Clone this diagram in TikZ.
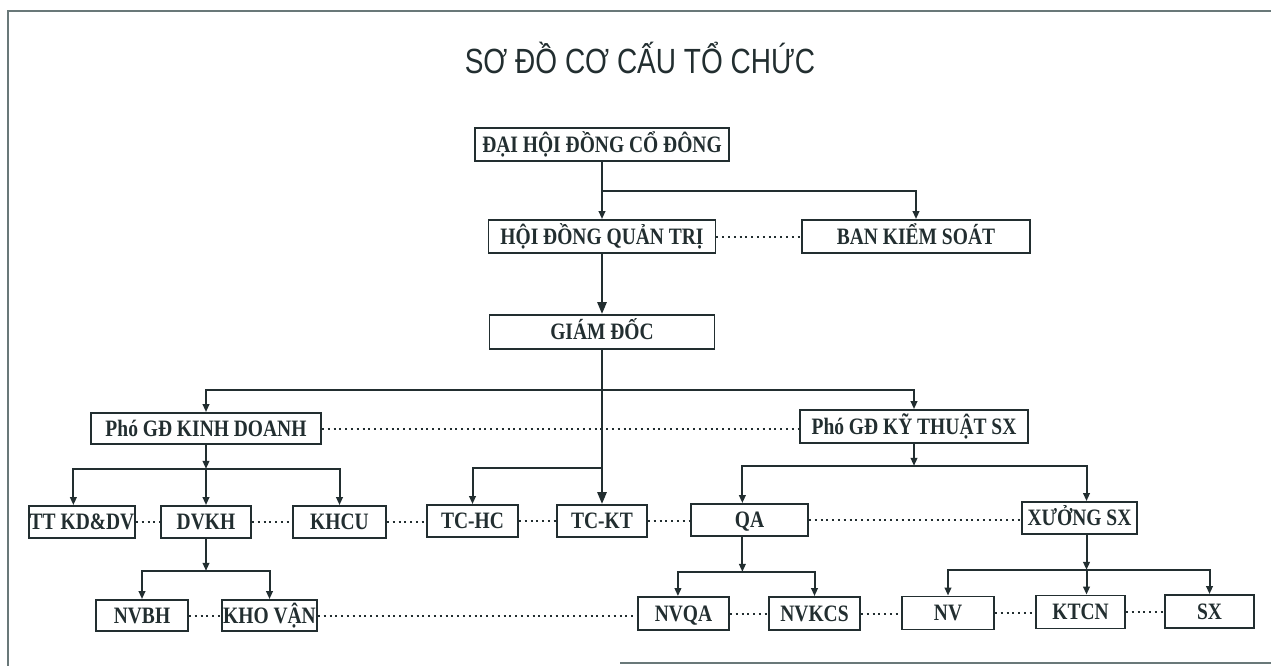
\documentclass[tikz,border=0pt]{standalone}
\usepackage{fontspec}
\setmainfont{Liberation Serif}
\newfontfamily\titlefont[FakeStretch=0.8]{Liberation Sans}
\newfontfamily\boxfont[FakeStretch=0.83]{Liberation Serif}
\usetikzlibrary{arrows.meta,calc}
\definecolor{ink}{RGB}{34,46,48}
\definecolor{framec}{RGB}{105,120,121}
\begin{document}
\begin{tikzpicture}[x=1pt,y=-1pt,
  box/.style={draw=ink, line width=1.8pt, fill=white, inner sep=0pt, minimum height=33pt,
    text height=15.5pt, text depth=-1pt,
    font=\boxfont\bfseries\fontsize{23.5}{25}\selectfont, text=ink},
  arr/.style={draw=ink, line width=2pt, -{Triangle[length=8pt,width=6.5pt]}},
  bigarr/.style={draw=ink, line width=2.6pt, -{Triangle[length=12pt,width=9pt]}},
  dots/.style={draw=ink, line width=2pt, dash pattern=on 2pt off 3.8pt},
  framel/.style={draw=framec, line width=2.2pt},
  titlest/.style={font=\titlefont\fontsize{35}{38}\selectfont, text=ink}
]
\fill[white] (0,0) rectangle (1271,666);
\useasboundingbox (0,0) rectangle (1271,666);
\draw[framel] (8,666) -- (8,11) -- (1271,11);
\draw[framel] (620,663) -- (1271,663);

\node[titlest] (title) at (640,58) {SƠ ĐỒ CƠ CẤU TỔ CHỨC};

% level nodes
\node[box, minimum width=254pt] (dhdcd) at (602,144.5) {ĐẠI HỘI ĐỒNG CỔ ĐÔNG};
\node[box, minimum width=227pt] (hdqt) at (602,236.5) {HỘI ĐỒNG QUẢN TRỊ};
\node[box, minimum width=228pt] (bks) at (916,236.5) {BAN KIỂM SOÁT};
\node[box, minimum width=225pt, minimum height=34pt] (gd) at (602,332) {GIÁM ĐỐC};
\node[box, minimum width=230pt, minimum height=31pt] (pkd) at (206,428.5) {Phó GĐ KINH DOANH};
\node[box, minimum width=228pt] (pkt) at (914,426.5) {Phó GĐ KỸ THUẬT SX};

\node[box, minimum width=106pt, minimum height=32pt] (tt) at (82,522) {TT KD\&DV};
\node[box, minimum width=90pt, minimum height=32pt] (dvkh) at (206,522) {DVKH};
\node[box, minimum width=93pt, minimum height=32pt] (khcu) at (339.5,522) {KHCU};
\node[box, minimum width=91pt, minimum height=32pt] (tchc) at (472.5,521) {TC-HC};
\node[box, minimum width=90pt, minimum height=32pt] (tckt) at (602,521) {TC-KT};
\node[box, minimum width=117pt, minimum height=32pt] (qa) at (749.5,520) {QA};
\node[box, minimum width=115pt, minimum height=32pt] (xuong) at (1079.5,518) {XƯỞNG SX};

\node[box, minimum width=92pt, minimum height=31pt] (nvbh) at (142,615.5) {NVBH};
\node[box, minimum width=95pt, minimum height=31pt] (kho) at (269.5,615.5) {KHO VẬN};
\node[box, minimum width=91pt] (nvqa) at (683.5,613.5) {NVQA};
\node[box, minimum width=91pt] (nvkcs) at (814.5,613.5) {NVKCS};
\node[box, minimum width=92pt] (nv) at (948,613) {NV};
\node[box, minimum width=89pt] (ktcn) at (1080.5,612) {KTCN};
\node[box, minimum width=89pt] (sx) at (1209.5,611.5) {SX};

% junction coordinates
\coordinate (j1) at ($(dhdcd.south)+(0,29)$);
\coordinate (j2) at ($(gd.south)+(0,40)$);
\coordinate (j3) at ($(gd.south)+(0,118)$);
\coordinate (j4) at ($(pkd.south)+(0,24)$);
\coordinate (j5) at ($(pkt.south)+(0,22)$);
\coordinate (qain) at ($(qa.north west)!0.44!(qa.north east)$);
\coordinate (qaout) at ($(qa.south west)!0.44!(qa.south east)$);
\coordinate (xin) at ($(xuong.north west)!0.56!(xuong.north east)$);
\coordinate (xout) at ($(xuong.south west)!0.56!(xuong.south east)$);
\coordinate (ttin) at ($(tt.north west)!0.42!(tt.north east)$);
\coordinate (nvqain) at ($(nvqa.north west)!0.44!(nvqa.north east)$);
\coordinate (j6) at ($(qaout)+(0,35)$);
\coordinate (j7) at ($(xout)+(0,35)$);
\coordinate (j8) at ($(dvkh.south)+(0,32)$);

% solid connectors
\draw[arr] (dhdcd.south) -- (hdqt.north);
\draw[arr] (j1) -| (bks.north);
\draw[bigarr] (hdqt.south) -- (gd.north);
\draw[bigarr] (gd.south) -- (gd.south |- tckt.north);
\draw[arr] (j2) -| (pkd.north);
\draw[arr] (j2) -| (pkt.north);
\draw[arr] (j3) -| (tchc.north);

\draw[arr] (pkd.south) -- (j4);
\draw[arr] (j4) -- (j4 |- dvkh.north);
\draw[arr] (j4) -| (ttin);
\draw[arr] (j4) -| (khcu.north);

\draw[arr] (pkt.south) -- (j5);
\draw[arr] (j5) -| (qain);
\draw[arr] (j5) -| (xin);

\draw[arr] (dvkh.south) -- (j8);
\draw[arr] (j8) -| (nvbh.north);
\draw[arr] (j8) -| (kho.north);

\draw[arr] (qaout) -- (j6);
\draw[arr] (j6) -| (nvqain);
\draw[arr] (j6) -| (nvkcs.north);

\draw[arr] (xout) -- (j7);
\draw[arr] (j7) -| (nv.north);
\draw[arr] (j7) -- (j7 |- ktcn.north);
\draw[arr] (j7) -| (sx.north);

% dotted links
\draw[dots] (hdqt.east) -- (hdqt.east -| bks.west);
\draw[dots] (pkd.east) -- (pkd.east -| pkt.west);
\draw[dots] (tt.east) -- (tt.east -| dvkh.west);
\draw[dots] (dvkh.east) -- (dvkh.east -| khcu.west);
\draw[dots] (khcu.east) -- (khcu.east -| tchc.west);
\draw[dots] (tchc.east) -- (tchc.east -| tckt.west);
\draw[dots] (tckt.east) -- (tckt.east -| qa.west);
\draw[dots] (qa.east) -- (qa.east -| xuong.west);
\draw[dots] (nvbh.east) -- (nvbh.east -| kho.west);
\draw[dots] (kho.east) -- (kho.east -| nvqa.west);
\draw[dots] (nvqa.east) -- (nvqa.east -| nvkcs.west);
\draw[dots] (nvkcs.east) -- (nvkcs.east -| nv.west);
\draw[dots] (nv.east) -- (nv.east -| ktcn.west);
\draw[dots] (ktcn.east) -- (ktcn.east -| sx.west);
\end{tikzpicture}
\end{document}
